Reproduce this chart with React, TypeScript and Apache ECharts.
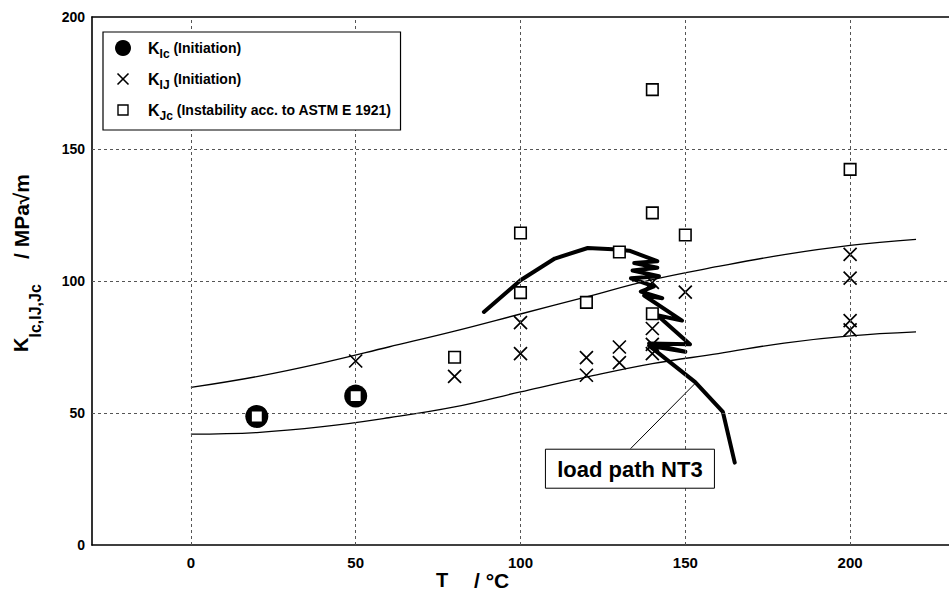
import React, { useEffect, useRef } from 'react';
import * as echarts from 'echarts';

// ---- data ----
const xTicks = [0, 50, 100, 150, 200];
const yGrid = [50, 100, 150];

// K_Ic (Initiation) [T, K]
const kIc = [[20, 48.7], [50, 56.4]];

// K_IJ (Initiation)
const kIJ = [
  [50, 69.7], [80, 63.9], [100, 84.2], [100, 72.5], [120, 71.0], [120, 64.3],
  [130, 75.0], [130, 69.1], [140, 99.5], [140, 82.0], [140, 76.0], [140, 72.5],
  [150, 95.8], [200, 110.1], [200, 101.1], [200, 85.0], [200, 81.5],
];

// K_Jc (Instability acc. to ASTM E 1921)
const kJc = [
  [20, 48.7], [50, 56.4], [80, 71.1], [100, 118.2], [100, 95.6], [120, 91.9],
  [130, 111.0], [140, 172.5], [140, 125.8], [140, 87.6], [150, 117.4], [200, 142.3],
];

// fitted scatter-band curves
const upperCurve = [
  [0, 59.7], [20, 63.8], [40, 69.0], [60, 75.0], [80, 81.0], [100, 87.5],
  [120, 94.0], [140, 100.5], [160, 105.5], [180, 110.0], [200, 113.5], [220, 115.8],
];
const lowerCurve = [
  [0, 42.0], [20, 42.6], [40, 44.8], [60, 48.2], [80, 52.3], [100, 58.0],
  [120, 63.6], [140, 68.7], [160, 72.5], [180, 76.5], [200, 79.2], [220, 80.7],
];

// load path NT3
const loadPath = [
  [88.9, 88.3], [100, 100.3], [110.4, 108.5], [120.4, 112.5], [128, 112.0], [133, 111.5],
  [141.5, 107.5], [134.5, 106.8], [141.5, 105.0], [134, 104.0], [142, 101.8], [133.5, 101.0],
  [140.5, 98.0], [136.5, 96.0], [143, 93.5], [137.5, 94.5], [149, 85.0], [141.5, 87.0],
  [151.4, 76.0], [139, 76.3], [150, 73.2], [139, 75.5], [153, 61.7], [161.4, 50.4], [165, 31.2],
];

// annotation
const annotationText = 'load path NT3';
const annotationLeader = [[133.4, 36.5], [152.9, 61.1]];
const annotationAnchor = [133.2, 28.9];

const legendRows = [
  { symbol: 'circle', main: 'K', sub: 'Ic', rest: ' (Initiation)' },
  { symbol: 'cross', main: 'K', sub: 'IJ', rest: ' (Initiation)' },
  { symbol: 'square', main: 'K', sub: 'Jc', rest: ' (Instability acc. to ASTM E 1921)' },
];

const yTitle = { main: 'K', sub: 'Ic,IJ,Jc', rest: '/ MPa\u221Am' };
const xTitle = { main: 'T', rest: '/ \u00B0C' };

// ---- style ----
const FONT = '"Liberation Sans", Arial, Helvetica, sans-serif';
const CROSS = 'path://M0 0L10 10M10 0L0 10';
const GRID = { left: 92, top: 17, width: 867, height: 528 };

function measure(text: string, size: number) {
  const ctx = document.createElement('canvas').getContext('2d')!;
  ctx.font = `bold ${size}px ${FONT}`;
  return ctx.measureText(text).width;
}

function txt(x: number, y: number, text: string, size: number, extra: any = {}) {
  return {
    type: 'text', x, y, z: 100,
    style: { text, font: `bold ${size}px ${FONT}`, fill: '#000', textVerticalAlign: 'middle', textAlign: 'left' },
    ...extra,
  };
}

export default function App() {
  const ref = useRef<HTMLDivElement>(null);
  useEffect(() => {
    const chart = echarts.init(ref.current!, null, { renderer: 'svg' });
    const dashed = { color: '#555', width: 1, type: [3, 3] as any };
    const tickFont = { color: '#000', fontWeight: 'bold', fontFamily: FONT };
    chart.setOption({
      animation: false,
      backgroundColor: '#fff',
      grid: GRID,
      xAxis: [
        {
          type: 'value', min: -30, max: 230,
          axisLine: { show: true, onZero: false, lineStyle: { color: '#000', width: 1.6 } },
          axisTick: { show: true, inside: true, length: 3, customValues: xTicks, lineStyle: { color: '#000' } },
          axisLabel: { customValues: xTicks, ...tickFont, fontSize: 15, margin: 10 },
          splitLine: { show: false },
        },
        {
          type: 'value', min: -30, max: 230, position: 'top',
          axisLine: { show: true, onZero: false, lineStyle: { color: '#000', width: 1.6 } },
          axisTick: { show: false }, axisLabel: { show: false }, splitLine: { show: false },
        },
      ],
      yAxis: {
        type: 'value', min: 0, max: 200, interval: 50,
        axisLine: { show: true, onZero: false, lineStyle: { color: '#000', width: 1.6 } },
        axisTick: { show: false },
        axisLabel: { ...tickFont, fontSize: 14, margin: 7 },
        splitLine: { show: false },
      },
      series: [
        {
          type: 'line', data: [], silent: true, z: 1,
          markLine: {
            silent: true, symbol: 'none', label: { show: false }, lineStyle: dashed, animation: false,
            data: [...xTicks.map((v) => ({ xAxis: v })), ...yGrid.map((v) => ({ yAxis: v }))],
          },
        },
        { type: 'line', data: upperCurve, smooth: 0.4, showSymbol: false, z: 2, lineStyle: { color: '#000', width: 1.3 } },
        { type: 'line', data: lowerCurve, smooth: 0.4, showSymbol: false, z: 2, lineStyle: { color: '#000', width: 1.3 } },
        { type: 'line', data: loadPath, showSymbol: false, z: 3, lineStyle: { color: '#000', width: 4, join: 'round', cap: 'round' } },
        { type: 'line', data: annotationLeader, showSymbol: false, z: 3, lineStyle: { color: '#000', width: 1 } },
        {
          type: 'scatter', data: kIJ, symbol: CROSS, symbolSize: 13, z: 4,
          itemStyle: { color: 'none', borderColor: '#000', borderWidth: 1.7, opacity: 1 },
        },
        { type: 'scatter', data: kIc, symbol: 'circle', symbolSize: 23, z: 5, itemStyle: { color: '#000', opacity: 1 } },
        {
          type: 'scatter', data: kJc, symbol: 'rect', symbolSize: 11.5, z: 6,
          itemStyle: { color: '#fff', borderColor: '#000', borderWidth: 1.6, opacity: 1 },
        },
      ],
    });

    // ---- graphics: legend, titles, annotation ----
    const g: any[] = [];
    const lx = 103, ly = 32, rowY = [48, 79, 110], symX = 123, textX = 148;
    const mainSize = 16, subSize = 12, restSize = 14;
    let maxW = 0;
    const legendEls: any[] = [];
    legendRows.forEach((r, i) => {
      const y = rowY[i];
      if (r.symbol === 'circle') legendEls.push({ type: 'circle', z: 101, shape: { cx: symX, cy: y, r: 8 }, style: { fill: '#000' } });
      else if (r.symbol === 'cross') {
        legendEls.push({ type: 'line', z: 101, shape: { x1: symX - 5.5, y1: y - 5.5, x2: symX + 5.5, y2: y + 5.5 }, style: { stroke: '#000', lineWidth: 1.6 } });
        legendEls.push({ type: 'line', z: 101, shape: { x1: symX + 5.5, y1: y - 5.5, x2: symX - 5.5, y2: y + 5.5 }, style: { stroke: '#000', lineWidth: 1.6 } });
      } else legendEls.push({ type: 'rect', z: 101, shape: { x: symX - 5, y: y - 5, width: 10, height: 10 }, style: { fill: '#fff', stroke: '#000', lineWidth: 1.4 } });
      const wm = measure(r.main, mainSize);
      const ws = measure(r.sub, subSize);
      legendEls.push(txt(textX, y, r.main, mainSize, { z: 101 }));
      legendEls.push(txt(textX + wm, y + 6, r.sub, subSize, { z: 101 }));
      legendEls.push(txt(textX + wm + ws, y, r.rest, restSize, { z: 101 }));
      maxW = Math.max(maxW, wm + ws + measure(r.rest, restSize));
    });
    g.push({ type: 'rect', z: 100, shape: { x: lx, y: ly, width: textX + maxW + 9 - lx, height: 98 }, style: { fill: '#fff', stroke: '#000', lineWidth: 1.2 } });
    g.push(...legendEls);

    // y title (rotated)
    const rot = Math.PI / 2;
    const yMainSize = 20, ySubSize = 16;
    const wK = measure(yTitle.main, yMainSize);
    g.push(txt(21, 352, yTitle.main, yMainSize, { rotation: rot }));
    g.push(txt(35, 352 - wK, yTitle.sub, ySubSize, { rotation: rot }));
    g.push(txt(21, 259, yTitle.rest, 21, { rotation: rot }));

    // x title
    g.push(txt(436, 580, xTitle.main, 20));
    g.push(txt(474, 580, xTitle.rest, 21));

    // annotation box
    const p = chart.convertToPixel({ gridIndex: 0 }, annotationAnchor) as number[];
    const bw = 169, bh = 39;
    g.push({ type: 'rect', z: 100, shape: { x: p[0] - bw / 2, y: p[1] - bh / 2, width: bw, height: bh }, style: { fill: '#fff', stroke: '#000', lineWidth: 1 } });
    g.push({
      type: 'text', x: p[0], y: p[1] + 1, z: 101,
      style: { text: annotationText, font: `bold 22px ${FONT}`, fill: '#000', textAlign: 'center', textVerticalAlign: 'middle' },
    });

    chart.setOption({ graphic: g });
    return () => chart.dispose();
  }, []);
  return (
    <div style={{ position: 'fixed', left: 0, top: 0, width: 949, height: 596, overflow: 'hidden', background: '#fff' }}>
      <div ref={ref} style={{ width: 949, height: 596 }} />
    </div>
  );
}
